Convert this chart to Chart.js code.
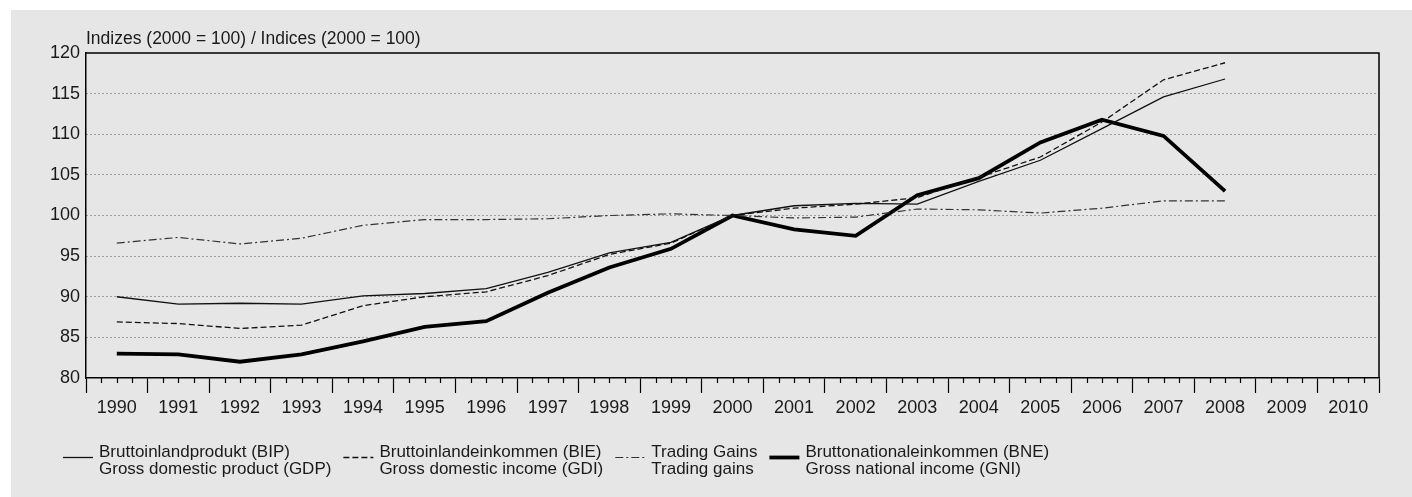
<!DOCTYPE html>
<html lang="de">
<head>
    <meta charset="UTF-8">
    <title>Indizes (2000 = 100)</title>
    <script src="https://cdn.jsdelivr.net/npm/chart.js"></script>
    <style>
        body { margin: 0; background: #ffffff; }
        #panel {
            position: absolute;
            left: 11px;
            top: 10px;
            width: 1401px;
            height: 487px;
            background: #e6e6e6;
        }
    </style>
</head>
<body>
    <div id="panel"><canvas id="incomeChart" width="1401" height="487"></canvas></div>
    <script>
        var years = ['1990', '1991', '1992', '1993', '1994', '1995', '1996', '1997', '1998', '1999', '2000',
                     '2001', '2002', '2003', '2004', '2005', '2006', '2007', '2008', '2009', '2010'];
        var gdp = [90.0, 89.1, 89.2, 89.1, 90.1, 90.4, 91.0, 93.0, 95.4, 96.7, 100.0, 101.2, 101.5, 101.4, 104.2, 106.8, 110.7, 114.6, 116.8];
        var gdi = [86.9, 86.7, 86.1, 86.5, 88.9, 90.0, 90.6, 92.6, 95.2, 96.6, 100.0, 100.9, 101.4, 102.2, 104.7, 107.2, 111.5, 116.7, 118.8];
        var tradingGains = [96.6, 97.3, 96.5, 97.2, 98.8, 99.5, 99.5, 99.6, 100.0, 100.2, 100.0, 99.7, 99.8, 100.8, 100.7, 100.3, 100.9, 101.8, 101.8];
        var gni = [83.0, 82.9, 82.0, 82.9, 84.5, 86.3, 87.0, 90.5, 93.6, 95.9, 100.0, 98.3, 97.5, 102.5, 104.6, 109.0, 111.8, 109.8, 103.0];

        var seriesDe = ['Bruttoinlandprodukt (BIP)', 'Bruttoinlandeinkommen (BIE)', 'Trading Gains', 'Bruttonationaleinkommen (BNE)'];
        var seriesEn = ['Gross domestic product (GDP)', 'Gross domestic income (GDI)', 'Trading gains', 'Gross national income (GNI)'];
        var yTitle = 'Indizes (2000 = 100) / Indices (2000 = 100)';
        var yMin = 80, yMax = 120, yStep = 5;

        var ink = '#1a1a1a';
        var face = '"Liberation Sans", Arial, sans-serif';

        // top/right frame, small quarter ticks, title and the two-line legend
        var extras = {
            id: 'extras',
            afterDraw: function(chart) {
                var ctx = chart.ctx;
                var area = chart.chartArea;
                var x = chart.scales.x;

                ctx.save();
                ctx.strokeStyle = '#000';
                ctx.lineWidth = 1.5;
                ctx.beginPath();
                ctx.moveTo(area.left, area.top);
                ctx.lineTo(area.right, area.top);
                ctx.lineTo(area.right, area.bottom);
                ctx.stroke();

                var step = x.getPixelForValue(1) - x.getPixelForValue(0);
                ctx.lineWidth = 1.2;
                ctx.beginPath();
                for (var i = 0; i < years.length; i++) {
                    var c = x.getPixelForValue(i);
                    [c - step / 4, c, c + step / 4].forEach(function(px) {
                        ctx.moveTo(Math.round(px) + 0.5, area.bottom);
                        ctx.lineTo(Math.round(px) + 0.5, area.bottom + 5);
                    });
                }
                ctx.stroke();

                ctx.fillStyle = ink;
                ctx.textAlign = 'left';
                ctx.textBaseline = 'alphabetic';
                ctx.font = '17.5px ' + face;
                ctx.fillText(yTitle, area.left, area.top - 9);

                // legend
                ctx.font = '17px ' + face;
                var lx = 52;
                var y1 = 447, y2 = 464;
                chart.data.datasets.forEach(function(ds, k) {
                    ctx.strokeStyle = ds.borderColor;
                    ctx.lineWidth = ds.borderWidth;
                    ctx.setLineDash(ds.borderDash || []);
                    ctx.beginPath();
                    ctx.moveTo(lx, y1 + 0.5);
                    ctx.lineTo(lx + 30, y1 + 0.5);
                    ctx.stroke();
                    ctx.setLineDash([]);
                    var tx = lx + 36;
                    ctx.fillText(seriesDe[k], tx, y1);
                    ctx.fillText(seriesEn[k], tx, y2);
                    var w = Math.max(ctx.measureText(seriesDe[k]).width, ctx.measureText(seriesEn[k]).width);
                    lx = tx + w + 12;
                });
                ctx.restore();
            }
        };

        var ctx = document.getElementById('incomeChart').getContext('2d');
        var incomeChart = new Chart(ctx, {
            type: 'line',
            data: {
                labels: years,
                datasets: [{
                    label: seriesDe[0],
                    data: gdp,
                    borderColor: '#111',
                    borderWidth: 1.3
                }, {
                    label: seriesDe[1],
                    data: gdi,
                    borderColor: '#111',
                    borderWidth: 1.3,
                    borderDash: [6, 3]
                }, {
                    label: seriesDe[2],
                    data: tradingGains,
                    borderColor: '#333',
                    borderWidth: 1.2,
                    borderDash: [8, 3, 2, 3]
                }, {
                    label: seriesDe[3],
                    data: gni,
                    borderColor: '#000',
                    borderWidth: 3.8
                }]
            },
            options: {
                responsive: false,
                animation: false,
                events: [],
                elements: { point: { radius: 0 }, line: { tension: 0 } },
                layout: { padding: { top: 43, right: 33, bottom: 69, left: 0 } },
                plugins: { legend: { display: false }, tooltip: { enabled: false }, title: { display: false } },
                scales: {
                    x: {
                        offset: true,
                        grid: {
                            offset: true,
                            drawOnChartArea: false,
                            drawTicks: true,
                            tickLength: 15,
                            tickColor: '#000',
                            tickWidth: 1.2
                        },
                        border: { display: true, color: '#000', width: 1.5 },
                        ticks: {
                            color: ink,
                            font: { family: face, size: 18 },
                            padding: 4,
                            maxRotation: 0,
                            autoSkip: false
                        },
                        afterFit: function(scale) { scale.height = 50; }
                    },
                    y: {
                        min: yMin,
                        max: yMax,
                        grid: {
                            drawTicks: false,
                            color: function(c) {
                                return (c.tick && (c.tick.value === yMin || c.tick.value === yMax)) ? 'rgba(0,0,0,0)' : '#555';
                            },
                            lineWidth: 1
                        },
                        border: { display: true, color: '#000', width: 1.5, dash: [1, 3] },
                        ticks: {
                            stepSize: yStep,
                            color: ink,
                            font: { family: face, size: 18 },
                            padding: 6
                        },
                        afterFit: function(scale) { scale.width = 75; }
                    }
                }
            },
            plugins: [extras]
        });
    </script>
</body>
</html>
